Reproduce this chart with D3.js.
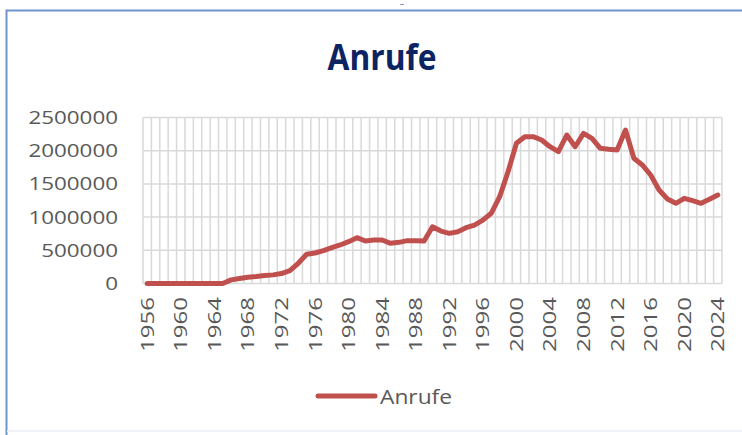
<!DOCTYPE html>
<html>
<head>
<meta charset="utf-8">
<script src="https://cdn.jsdelivr.net/npm/d3@7"></script>
<style>
  html, body { margin: 0; padding: 0; background: #ffffff; }
  svg { display: block; }
</style>
</head>
<body>
<svg id="chart" width="742" height="435"></svg>
<script>
// ---- data ----
const years = d3.range(1956, 2025).map(String);
const seriesName = "Anrufe";
const calls = [
  0, 0, 0, 0, 0, 0, 0, 0, 0, 0,            // 1956-1965
  55000, 75000, 95000, 105000, 120000,     // 1966-1970
  130000, 150000, 193000, 304000, 440000,  // 1971-1975
  459000, 494000, 540000, 580000, 630000,  // 1976-1980
  690000, 640000, 655000, 655000, 605000,  // 1981-1985
  620000, 645000, 645000, 640000, 855000,  // 1986-1990
  790000, 755000, 780000, 840000, 880000,  // 1991-1995
  955000, 1057000, 1307000, 1684000, 2111000, // 1996-2000
  2211000, 2211000, 2161000, 2060000, 1985000, // 2001-2005
  2236000, 2060000, 2262000, 2187000, 2036000, // 2006-2010
  2021000, 2010000, 2312000, 1886000, 1785000, // 2011-2015
  1634000, 1408000, 1273000, 1208000, 1283000, // 2016-2020
  1247000, 1208000, 1268000, 1333000           // 2021-2024
];
const yTicks = [0, 500000, 1000000, 1500000, 2000000, 2500000];
const xTickLabels = years.filter((d, i) => i % 4 === 0);
const title = "Anrufe";

// ---- layout ----
const svg = d3.select("#chart");
const plot = { left: 143, right: 722, top: 117.5, bottom: 283.5 };
const labelFont = "'Open Sans', 'Noto Sans', 'Liberation Sans', sans-serif";

const x = d3.scaleBand().domain(years).range([plot.left, plot.right]).padding(0);
const y = d3.scaleLinear().domain([0, 2500000]).range([plot.bottom, plot.top]);

// frame
svg.append("rect").attr("x", 0).attr("y", 0).attr("width", 742).attr("height", 435).attr("fill", "#ffffff");
svg.append("path")
  .attr("d", "M6.5,435 L6.5,10.5 L742,10.5")
  .attr("fill", "none").attr("stroke", "#6f94cc").attr("stroke-width", 2);
svg.append("line").attr("x1", 7).attr("x2", 742).attr("y1", 431).attr("y2", 431)
  .attr("stroke", "#eef2f6").attr("stroke-width", 2);
svg.append("line").attr("x1", 400).attr("x2", 404).attr("y1", 4.5).attr("y2", 4.5)
  .attr("stroke", "#8a9bb8").attr("stroke-width", 1);

// title
svg.append("text")
  .attr("x", 382).attr("y", 70)
  .attr("text-anchor", "middle")
  .attr("font-family", labelFont)
  .attr("font-weight", "bold")
  .attr("font-size", 36)
  .attr("fill", "#0c2462")
  .attr("textLength", 109).attr("lengthAdjust", "spacingAndGlyphs")
  .text(title);

// grid
const grid = svg.append("g").attr("stroke", "#d9d9d9").attr("stroke-width", 1.5);
const edges = years.map(d => x(d)).concat([plot.right]);
grid.selectAll("line.v").data(edges).enter().append("line")
  .attr("x1", d => d).attr("x2", d => d)
  .attr("y1", plot.top).attr("y2", plot.bottom);
grid.selectAll("line.h").data(yTicks).enter().append("line")
  .attr("x1", plot.left).attr("x2", plot.right)
  .attr("y1", d => y(d)).attr("y2", d => y(d));

// y axis labels
const fmt = d3.format("d");
svg.append("g").selectAll("text").data(yTicks).enter().append("text")
  .attr("x", 118).attr("y", d => y(d) + 6.5)
  .attr("text-anchor", "end")
  .attr("font-family", labelFont)
  .attr("font-size", 17.5)
  .attr("fill", "#595959")
  .attr("textLength", d => fmt(d).length * 12.8)
  .attr("lengthAdjust", "spacingAndGlyphs")
  .text(d => fmt(d));

// x axis labels
svg.append("g").selectAll("text").data(xTickLabels).enter().append("text")
  .attr("transform", d => `translate(${x(d) + x.bandwidth() / 2 + 6.5},297) rotate(-90)`)
  .attr("text-anchor", "end")
  .attr("font-family", labelFont)
  .attr("font-size", 17.5)
  .attr("fill", "#595959")
  .attr("textLength", 55)
  .attr("lengthAdjust", "spacingAndGlyphs")
  .text(d => d);

// line
const line = d3.line()
  .x((d, i) => x(years[i]) + x.bandwidth() / 2)
  .y(d => y(d));
svg.append("path")
  .datum(calls)
  .attr("d", line)
  .attr("fill", "none")
  .attr("stroke", "#c0504d")
  .attr("stroke-width", 5)
  .attr("stroke-linejoin", "round")
  .attr("stroke-linecap", "round");

// legend
svg.append("line")
  .attr("x1", 318).attr("x2", 375).attr("y1", 396).attr("y2", 396)
  .attr("stroke", "#c0504d").attr("stroke-width", 5).attr("stroke-linecap", "round");
svg.append("text")
  .attr("x", 380).attr("y", 404)
  .attr("font-family", labelFont)
  .attr("font-size", 20)
  .attr("fill", "#595959")
  .attr("textLength", 72).attr("lengthAdjust", "spacingAndGlyphs")
  .text(seriesName);
</script>
</body>
</html>
